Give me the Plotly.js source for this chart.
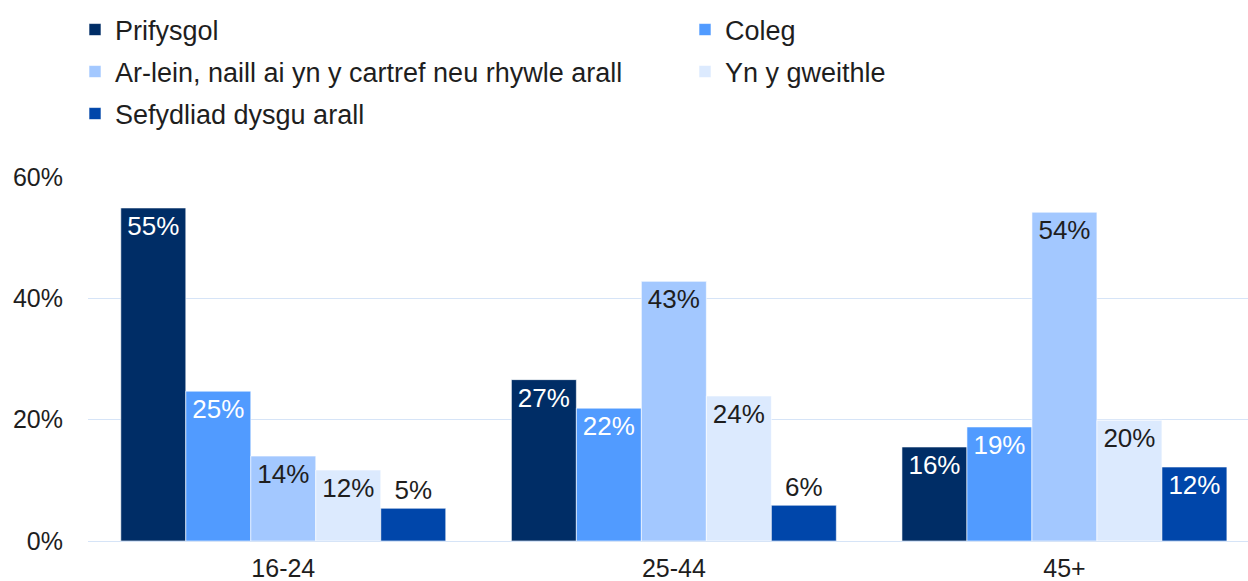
<!DOCTYPE html>
<html>
<head>
<meta charset="utf-8">
<script src="https://cdn.plot.ly/plotly-3.0.1.min.js"></script>
<style>html,body{margin:0;padding:0;background:#fff}#chart{width:1248px;height:581px}</style>
</head>
<body>
<div id="chart"></div>
<script>
const categories = ["16-24", "25-44", "45+"];
const seriesNames = ["Prifysgol", "Coleg", "Ar-lein, naill ai yn y cartref neu rhywle arall", "Yn y gweithle", "Sefydliad dysgu arall"];
const prifysgol = [54.9, 26.6, 15.5];
const coleg = [24.7, 21.9, 18.8];
const arlein = [14.0, 42.8, 54.2];
const ynYGweithle = [11.7, 23.9, 19.9];
const sefydliad = [5.4, 5.9, 12.2];
const yTickVals = [0, 20, 40, 60];
const yTickText = ["0%", "20%", "40%", "60%"];

const seriesValues = [prifysgol, coleg, arlein, ynYGweithle, sefydliad];
const colors = ["#002D66", "#519BFF", "#A3C8FF", "#DCEAFE", "#0046AA"];
const insideColors = ["#ffffff", "#ffffff", "#1e1e1e", "#1e1e1e", "#ffffff"];
const legendIds = ["legend", "legend2", "legend3", "legend4", "legend5"];
const FONT = "Liberation Sans, Arial, sans-serif";
const FS = 25;
const LFS = 27;
const DFS = 26;

const traces = seriesValues.map((vals, i) => ({
  type: "bar",
  name: seriesNames[i],
  x: categories,
  y: vals,
  legend: legendIds[i],
  marker: {color: colors[i], line: {color: "rgba(255,255,255,0.6)", width: 1}},
  texttemplate: "%{y:.0f}%",
  textposition: vals.map(v => v < 8 ? "outside" : "inside"),
  insidetextanchor: "end",
  insidetextfont: {family: FONT, size: DFS, color: insideColors[i]},
  outsidetextfont: {family: FONT, size: DFS, color: "#1e1e1e"},
  textangle: 0,
  cliponaxis: false,
  hoverinfo: "skip"
}));

function leg(xpx, ypx) {
  return {
    orientation: "h",
    xref: "container", yref: "container",
    x: xpx / 1248, xanchor: "left",
    y: 1 - ypx / 581, yanchor: "middle",
    font: {family: FONT, size: LFS, color: "#1e1e1e"},
    bgcolor: "rgba(0,0,0,0)", borderwidth: 0
  };
}

const layout = {
  width: 1248, height: 581,
  margin: {l: 88, r: 0, t: 177, b: 40},
  paper_bgcolor: "#ffffff", plot_bgcolor: "#ffffff",
  font: {family: FONT, size: FS, color: "#1e1e1e"},
  barmode: "group",
  bargap: 0.168,
  bargroupgap: 0,
  showlegend: true,
  legend: leg(75, 30),
  legend2: leg(685, 30),
  legend3: leg(75, 72),
  legend4: leg(685, 72),
  legend5: leg(75, 114),
  xaxis: {
    type: "category",
    range: [-0.5, 2.47],
    showgrid: false, showline: false, zeroline: false,
    ticks: "", ticklabelstandoff: 10,
    tickfont: {family: FONT, size: FS, color: "#1e1e1e"},
    fixedrange: true
  },
  yaxis: {
    range: [0, 60],
    tickvals: yTickVals, ticktext: yTickText,
    showgrid: true, gridcolor: "#D6E4F7", gridwidth: 1,
    zeroline: true, zerolinecolor: "#D6E4F7", zerolinewidth: 1,
    showline: false, ticks: "", ticklabelstandoff: 24,
    tickfont: {family: FONT, size: FS, color: "#1e1e1e"},
    fixedrange: true
  }
};

Plotly.newPlot("chart", traces, layout, {displayModeBar: false, staticPlot: true});
</script>
</body>
</html>
